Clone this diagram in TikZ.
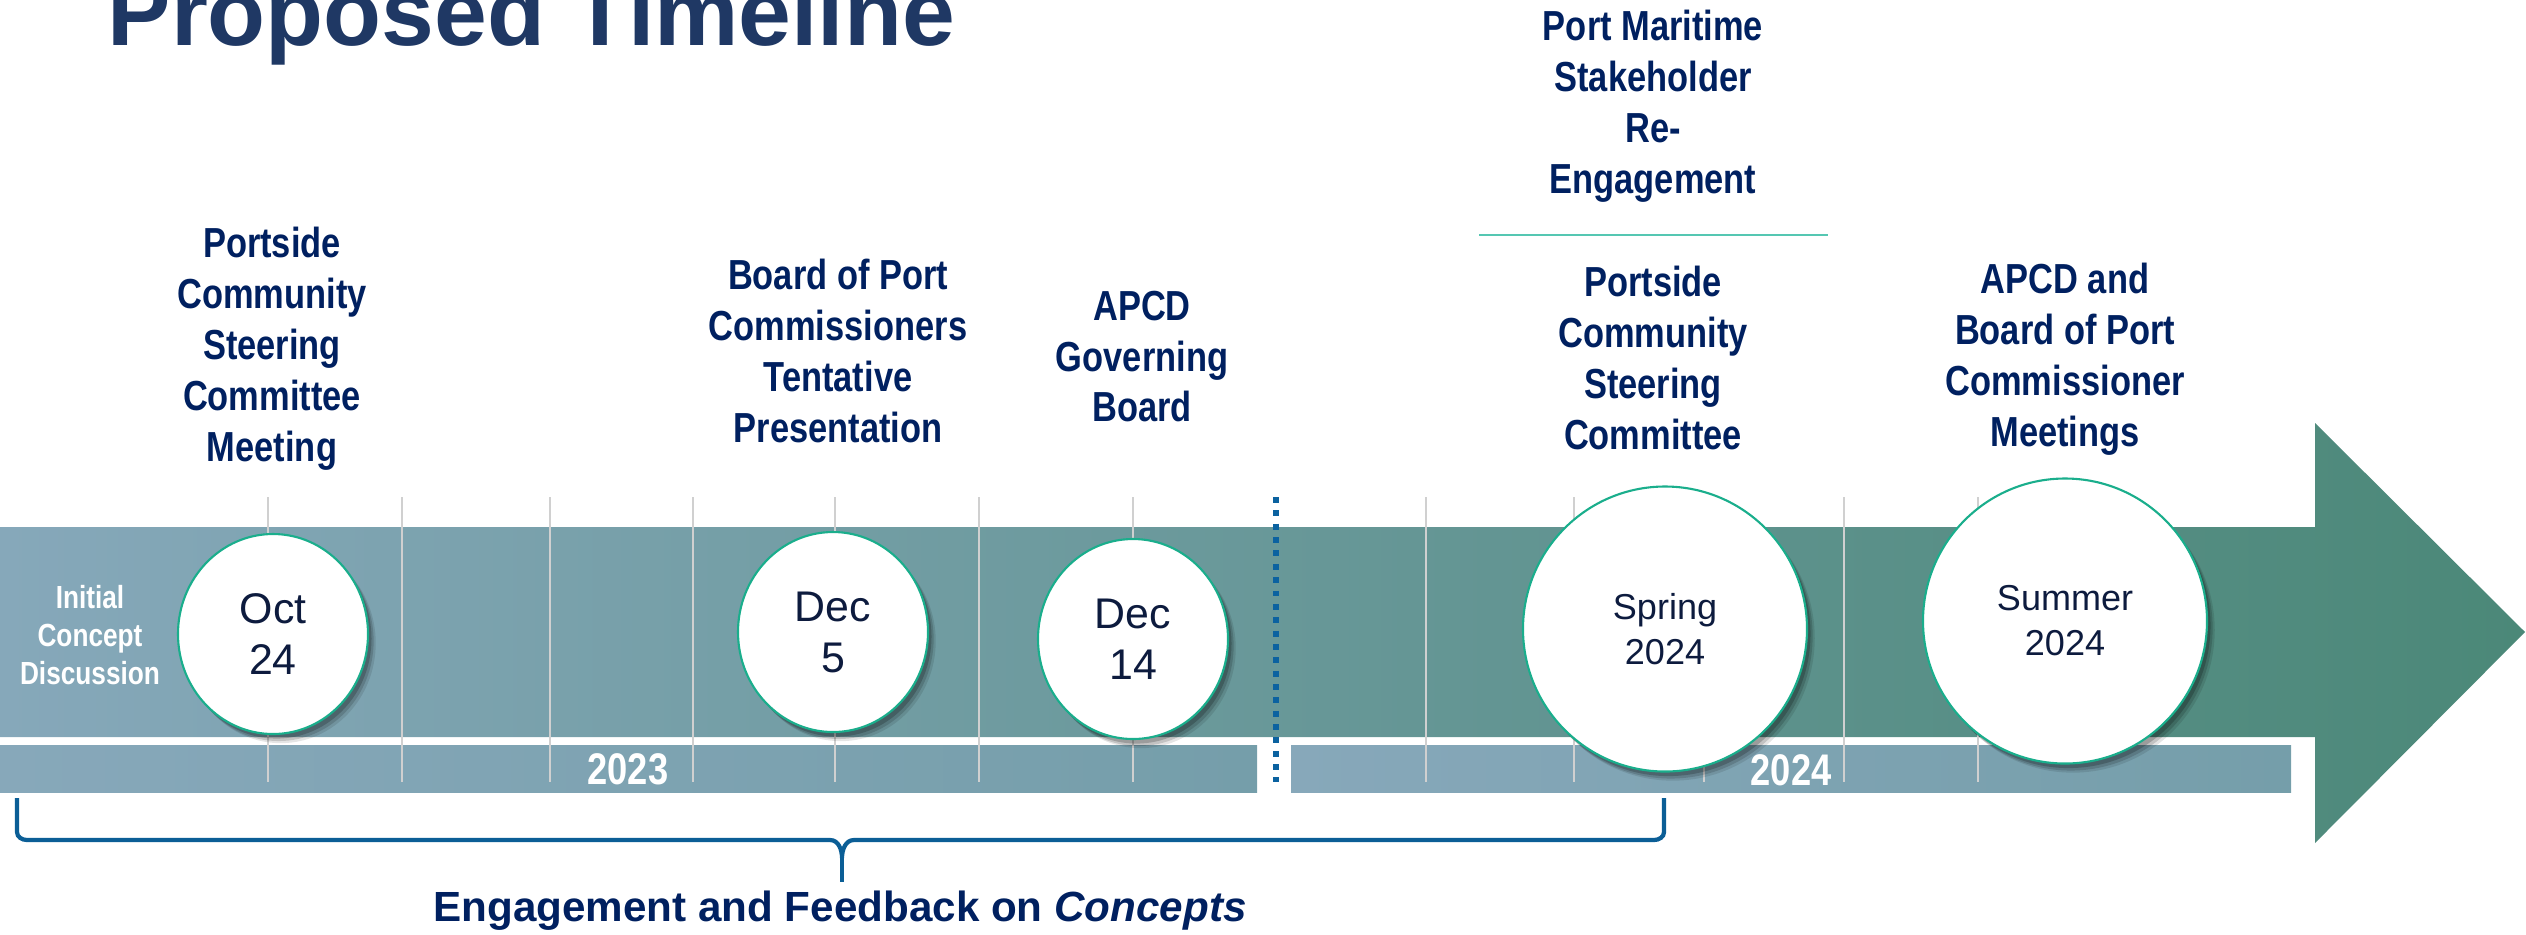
\documentclass[tikz,border=0pt]{standalone}
\usepackage{fontspec}
\setmainfont{Liberation Sans}
\newfontfamily\narrowfont[FakeStretch=0.82]{Liberation Sans}
\usepackage{xcolor}
\usetikzlibrary{shapes.geometric}
\usetikzlibrary{shadows}

\definecolor{bandleft}{HTML}{86A8BA}
\definecolor{bandmid}{HTML}{74A0A8}
\definecolor{bandright}{HTML}{4B8878}
\definecolor{barleft}{HTML}{87A8BA}
\definecolor{barright}{HTML}{759EAA}
\definecolor{lblnavy}{HTML}{002060}
\definecolor{titleblue}{HTML}{1F3864}
\definecolor{datetext}{HTML}{0D1B3E}
\definecolor{rimgreen}{HTML}{1AAE8C}
\definecolor{sepgreen}{HTML}{55C7B2}
\definecolor{dotblue}{HTML}{0B62A0}
\definecolor{braceblue}{HTML}{0B5E96}
\definecolor{gridgray}{HTML}{D0D0D0}

\begin{document}
\begin{tikzpicture}

\tikzset{
    circ/.style = {
    ellipse, fill=white, draw=rimgreen, line width=0.6pt,
    inner sep=0pt, align=center, text=datetext,
    drop shadow={shadow xshift=2.2pt, shadow yshift=-2.6pt, opacity=0.10, fill=black},
    drop shadow={shadow xshift=1.6pt, shadow yshift=-2pt, opacity=0.15, fill=black},
    drop shadow={shadow xshift=1pt, shadow yshift=-1.3pt, opacity=0.2, fill=black}
    }
}

\tikzstyle{datecirc}=[circ, minimum width=1.9cm, minimum height=2cm, font=\fontsize{12.2}{14.5}\selectfont]
\tikzstyle{seasoncirc}=[circ, minimum width=2.84cm, minimum height=2.85cm, font=\fontsize{10.25}{12.8}\selectfont]
\tikzstyle{event}=[anchor=north, inner sep=0pt, align=center, text=lblnavy, font=\narrowfont\bfseries\fontsize{11.95}{14.5}\selectfont]
\tikzstyle{yearlbl}=[inner sep=0pt, text=white, font=\narrowfont\bfseries\fontsize{12.6}{14}\selectfont]
\tikzstyle{gridline}=[gridgray, line width=0.45pt]

\clip (0,0) rectangle (25.26,-9.34);

\shade[left color=bandleft, middle color=bandmid, right color=bandright]
    (0,-5.27) -- (23.15,-5.27) -- (23.15,-4.23) -- (25.25,-6.32)
    -- (23.15,-8.43) -- (23.15,-7.37) -- (0,-7.37) -- cycle;

\shade[left color=barleft, right color=barright] (0,-7.45) rectangle (12.57,-7.92);
\shade[left color=barleft, right color=barright] (12.91,-7.45) rectangle (22.91,-7.92);

\foreach \x in {2.68,4.02,5.50,6.93,8.35,9.79,11.33,14.26,15.74,17.04,18.44,19.78}{
    \draw[gridline] (\x,-4.97) -- (\x,-7.82);
}

\draw[dotblue, line width=1.7pt, dash pattern=on 1.7pt off 2.1pt] (12.76,-4.97) -- (12.76,-7.82);

\node[yearlbl] (y-2023) at (6.28,-7.69) {2023};
\node[yearlbl] (y-2024) at (17.91,-7.70) {2024};

\node[yearlbl, align=center, font=\narrowfont\bfseries\fontsize{9.1}{10.8}\selectfont] (init) at (0.90,-6.355) {Initial\\Concept\\Discussion};

\node[datecirc] (c-oct) at (2.73,-6.34) {Oct\\24};
\node[datecirc] (c-dec5) at (8.33,-6.32) {Dec\\5};
\node[datecirc] (c-dec14) at (11.33,-6.39) {Dec\\14};
\node[seasoncirc] (c-spring) at (16.65,-6.29) {Spring\\2024};
\node[seasoncirc] (c-summer) at (20.65,-6.21) {Summer\\2024};

\node[event] (t-oct) at (2.72,-2.26) {Portside\\Community\\Steering\\Committee\\Meeting};
\node[event] (t-dec5) at (8.38,-2.58) {Board of Port\\Commissioners\\Tentative\\Presentation};
\node[event] (t-dec14) at (11.42,-2.90) {APCD\\Governing\\Board};
\node[event] (t-stake) at (16.53,-0.09) {Port Maritime\\Stakeholder\\Re-\\Engagement};
\node[event] (t-spring) at (16.53,-2.65) {Portside\\Community\\Steering\\Committee};
\node[event] (t-summer) at (20.65,-2.62) {APCD and\\Board of Port\\Commissioner\\Meetings};

\draw[sepgreen, line width=0.6pt] (14.79,-2.35) -- (18.28,-2.35);

\draw[braceblue, line width=1.2pt] (0.17,-7.98) -- (0.17,-8.32) to[out=-90,in=180] (0.27,-8.40)
    -- (8.30,-8.40) to[out=0,in=90] (8.42,-8.58) to[out=90,in=180] (8.54,-8.40)
    -- (16.54,-8.40) to[out=0,in=-90] (16.64,-8.32) -- (16.64,-7.98);
\draw[braceblue, line width=1.2pt] (8.42,-8.56) -- (8.42,-8.82);

\node[text=lblnavy, font=\bfseries\fontsize{12}{14}\selectfont] (engage) at (8.40,-9.11) {Engagement and Feedback on \textit{Concepts}};

\node[anchor=base west, inner sep=0pt, text=titleblue, font=\bfseries\fontsize{27}{30}\selectfont] (title) at (1.07,-0.45) {Proposed Timeline};

\end{tikzpicture}
\end{document}
